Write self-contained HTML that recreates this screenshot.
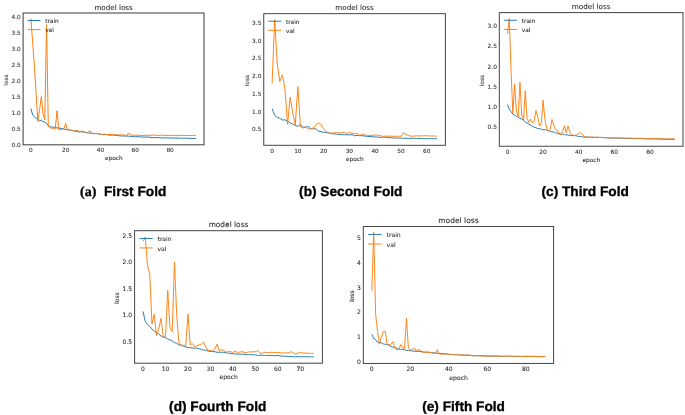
<!DOCTYPE html>
<html><head><meta charset="utf-8"><title>model loss folds</title>
<style>
html,body{margin:0;padding:0;background:#fff;}
body{width:685px;height:415px;overflow:hidden;}
.chart text{stroke:#262626;stroke-width:0.06px;}
svg{display:block;font-family:"DejaVu Sans","Liberation Sans",sans-serif;text-rendering:geometricPrecision;}
.cap{font-family:"Liberation Sans",sans-serif;}
</style></head><body>
<svg width="685" height="415" viewBox="0 0 685 415">
<rect width="685" height="415" fill="#fff"/>
<defs><filter id="b1" x="-5%" y="-5%" width="110%" height="110%"><feGaussianBlur stdDeviation="0.45"/></filter><filter id="b2" x="-5%" y="-5%" width="110%" height="110%"><feGaussianBlur stdDeviation="0.22"/></filter><filter id="b3" x="-5%" y="-20%" width="110%" height="140%"><feGaussianBlur stdDeviation="0.3"/></filter></defs>
<g id="plots">
<g class="chart" filter="url(#b1)">
<polyline points="30.90,108.54 32.64,114.91 34.38,116.59 36.12,118.42 37.86,119.10 39.60,121.11 41.34,120.12 43.08,121.65 44.82,121.86 46.56,123.90 48.30,125.05 50.04,126.81 51.78,126.96 53.52,127.32 55.26,127.17 57.00,128.04 58.74,127.95 60.48,128.29 62.22,128.47 63.96,128.75 65.70,129.57 67.44,129.41 69.18,129.86 70.92,130.32 72.66,130.53 74.40,131.10 76.14,131.20 77.88,131.59 79.62,131.66 81.36,131.70 83.10,132.15 84.84,132.29 86.58,132.55 88.32,132.83 90.06,133.04 91.80,133.16 93.54,133.60 95.28,133.59 97.02,133.57 98.76,133.95 100.50,134.33 102.24,134.59 103.98,134.71 105.72,134.45 107.46,134.85 109.20,135.10 110.94,135.10 112.68,134.95 114.42,135.38 116.16,135.43 117.90,135.58 119.64,135.78 121.38,136.00 123.12,135.99 124.86,136.07 126.60,136.07 128.34,136.14 130.08,136.25 131.82,136.44 133.56,136.48 135.30,136.80 137.04,136.62 138.78,136.79 140.52,136.97 142.26,136.96 144.00,137.10 145.74,137.03 147.48,137.06 149.22,137.06 150.96,137.56 152.70,137.63 154.44,137.60 156.18,137.59 157.92,137.58 159.66,137.72 161.40,138.04 163.14,137.89 164.88,137.80 166.62,137.90 168.36,137.87 170.10,138.01 171.84,138.04 173.58,138.03 175.32,138.04 177.06,138.09 178.80,138.14 180.54,138.25 182.28,138.17 184.02,138.23 185.76,138.16 187.50,138.18 189.24,138.32 190.98,138.41 192.72,138.46 194.46,138.39 196.20,138.46" fill="none" stroke="#1f77b4" stroke-width="1.0" stroke-linejoin="round"/>
<polyline points="30.90,18.62 32.64,42.30 34.38,66.30 36.12,93.50 37.86,121.34 39.60,109.50 41.34,96.70 43.08,114.30 44.82,119.74 46.56,24.70 48.30,126.46 50.04,127.42 51.78,128.70 53.52,128.70 55.26,128.70 57.00,110.78 58.74,129.34 60.48,129.66 62.22,129.34 63.96,128.70 65.70,123.58 67.44,130.30 69.18,129.51 70.92,130.24 72.66,130.75 74.40,131.38 76.14,130.48 77.88,130.34 79.62,132.57 81.36,131.17 83.10,131.19 84.84,132.04 86.58,133.00 88.32,132.23 90.06,130.62 91.80,133.37 93.54,133.87 95.28,133.28 97.02,133.38 98.76,134.21 100.50,133.92 102.24,134.71 103.98,134.00 105.72,134.40 107.46,134.59 109.20,134.65 110.94,134.35 112.68,134.49 114.42,134.67 116.16,134.89 117.90,134.94 119.64,134.76 121.38,134.93 123.12,134.79 124.86,135.19 126.60,136.03 128.34,133.18 130.08,134.29 131.82,134.97 133.56,135.19 135.30,135.22 137.04,135.23 138.78,135.19 140.52,135.64 142.26,135.43 144.00,135.63 145.74,135.22 147.48,135.33 149.22,135.22 150.96,135.35 152.70,135.17 154.44,135.32 156.18,135.00 157.92,135.70 159.66,135.51 161.40,135.27 163.14,135.00 164.88,135.47 166.62,135.43 168.36,135.48 170.10,135.22 171.84,135.50 173.58,135.34 175.32,135.51 177.06,135.67 178.80,135.42 180.54,135.39 182.28,135.26 184.02,135.50 185.76,135.59 187.50,135.40 189.24,135.46 190.98,135.46 192.72,135.52 194.46,135.32 196.20,135.45" fill="none" stroke="#ff7f0e" stroke-width="1.0" stroke-linejoin="round"/>
<rect x="23.1" y="13.0" width="180.90" height="131.80" fill="none" stroke="#444" stroke-width="1.05"/>
<text x="113.55" y="9.60" font-size="7.15" text-anchor="middle" fill="#262626">model loss</text>
<line x1="27.70" y1="20.55" x2="40.50" y2="20.55" stroke="#1f77b4" stroke-width="1.0"/>
<line x1="27.70" y1="29.60" x2="40.50" y2="29.60" stroke="#ff7f0e" stroke-width="1.0"/>
<text x="45.20" y="23.05" font-size="5.80" fill="#262626">train</text>
<text x="45.20" y="32.10" font-size="5.80" fill="#262626">val</text>
<text x="30.90" y="152.12" font-size="5.80" text-anchor="middle" fill="#262626">0</text>
<text x="65.70" y="152.12" font-size="5.80" text-anchor="middle" fill="#262626">20</text>
<text x="100.50" y="152.12" font-size="5.80" text-anchor="middle" fill="#262626">40</text>
<text x="135.30" y="152.12" font-size="5.80" text-anchor="middle" fill="#262626">60</text>
<text x="170.10" y="152.12" font-size="5.80" text-anchor="middle" fill="#262626">80</text>
<text x="20.70" y="147.22" font-size="5.80" text-anchor="end" fill="#262626">0.0</text>
<text x="20.70" y="131.22" font-size="5.80" text-anchor="end" fill="#262626">0.5</text>
<text x="20.70" y="115.22" font-size="5.80" text-anchor="end" fill="#262626">1.0</text>
<text x="20.70" y="99.22" font-size="5.80" text-anchor="end" fill="#262626">1.5</text>
<text x="20.70" y="83.22" font-size="5.80" text-anchor="end" fill="#262626">2.0</text>
<text x="20.70" y="67.22" font-size="5.80" text-anchor="end" fill="#262626">2.5</text>
<text x="20.70" y="51.22" font-size="5.80" text-anchor="end" fill="#262626">3.0</text>
<text x="20.70" y="35.22" font-size="5.80" text-anchor="end" fill="#262626">3.5</text>
<text x="20.70" y="19.22" font-size="5.80" text-anchor="end" fill="#262626">4.0</text>
<text x="113.75" y="160.40" font-size="5.80" text-anchor="middle" fill="#262626">epoch</text>
<text transform="translate(7.70,80.10) rotate(-90)" font-size="5.80" text-anchor="middle" fill="#262626">loss</text>
</g>
<g class="chart" filter="url(#b2)">
<polyline points="272.10,108.57 274.68,115.34 277.25,117.41 279.83,118.13 282.40,120.00 284.98,119.83 287.56,121.07 290.13,122.89 292.71,124.07 295.28,125.56 297.86,126.24 300.44,124.47 303.01,127.26 305.59,127.37 308.16,126.50 310.74,128.62 313.32,128.81 315.89,128.83 318.47,131.12 321.04,131.56 323.62,132.37 326.20,132.62 328.77,132.93 331.35,133.59 333.92,133.83 336.50,134.17 339.08,134.40 341.65,134.64 344.23,134.83 346.80,134.73 349.38,134.89 351.96,134.65 354.53,135.71 357.11,135.47 359.68,135.63 362.26,135.67 364.84,136.04 367.41,136.48 369.99,136.55 372.56,136.68 375.14,137.01 377.72,136.98 380.29,137.51 382.87,137.10 385.44,137.27 388.02,137.66 390.60,137.64 393.17,137.85 395.75,138.09 398.32,138.08 400.90,138.07 403.48,138.30 406.05,138.34 408.63,138.33 411.20,138.31 413.78,138.24 416.36,138.52 418.93,138.41 421.51,138.49 424.08,138.79 426.66,138.64 429.24,138.65 431.81,138.67 434.39,138.66 436.96,138.82" fill="none" stroke="#1f77b4" stroke-width="0.95" stroke-linejoin="round"/>
<polyline points="272.10,83.72 274.68,19.46 277.25,63.84 279.83,81.59 282.40,74.84 284.98,89.04 287.56,124.29 290.13,97.21 292.71,112.83 295.28,124.90 297.86,86.56 300.44,126.67 303.01,128.09 305.59,126.67 308.16,129.16 310.74,128.80 313.32,128.09 315.89,124.90 318.47,123.12 321.04,124.54 323.62,128.80 326.20,131.64 328.77,133.06 331.35,133.27 333.92,132.84 336.50,132.80 339.08,132.68 341.65,132.85 344.23,132.21 346.80,133.79 349.38,132.35 351.96,133.11 354.53,133.80 357.11,133.54 359.68,135.53 362.26,134.32 364.84,134.89 367.41,135.75 369.99,135.31 372.56,135.82 375.14,134.87 377.72,135.21 380.29,135.80 382.87,136.29 385.44,136.15 388.02,136.14 390.60,136.21 393.17,136.31 395.75,136.29 398.32,136.27 400.90,136.34 403.48,132.71 406.05,134.48 408.63,135.59 411.20,136.23 413.78,136.08 416.36,135.83 418.93,135.98 421.51,135.86 424.08,135.80 426.66,135.73 429.24,135.84 431.81,136.16 434.39,135.80 436.96,136.32" fill="none" stroke="#ff7f0e" stroke-width="0.95" stroke-linejoin="round"/>
<rect x="263.75" y="13.65" width="181.65" height="131.65" fill="none" stroke="#444" stroke-width="1.0"/>
<text x="354.57" y="10.25" font-size="7.18" text-anchor="middle" fill="#262626">model loss</text>
<line x1="268.37" y1="21.23" x2="281.22" y2="21.23" stroke="#1f77b4" stroke-width="0.95"/>
<line x1="268.37" y1="30.32" x2="281.22" y2="30.32" stroke="#ff7f0e" stroke-width="0.95"/>
<text x="285.94" y="23.74" font-size="5.82" fill="#262626">train</text>
<text x="285.94" y="32.83" font-size="5.82" fill="#262626">val</text>
<text x="272.10" y="152.63" font-size="5.82" text-anchor="middle" fill="#262626">0</text>
<text x="297.86" y="152.63" font-size="5.82" text-anchor="middle" fill="#262626">10</text>
<text x="323.62" y="152.63" font-size="5.82" text-anchor="middle" fill="#262626">20</text>
<text x="349.38" y="152.63" font-size="5.82" text-anchor="middle" fill="#262626">30</text>
<text x="375.14" y="152.63" font-size="5.82" text-anchor="middle" fill="#262626">40</text>
<text x="400.90" y="152.63" font-size="5.82" text-anchor="middle" fill="#262626">50</text>
<text x="426.66" y="152.63" font-size="5.82" text-anchor="middle" fill="#262626">60</text>
<text x="261.35" y="131.33" font-size="5.82" text-anchor="end" fill="#262626">0.5</text>
<text x="261.35" y="113.58" font-size="5.82" text-anchor="end" fill="#262626">1.0</text>
<text x="261.35" y="95.83" font-size="5.82" text-anchor="end" fill="#262626">1.5</text>
<text x="261.35" y="78.08" font-size="5.82" text-anchor="end" fill="#262626">2.0</text>
<text x="261.35" y="60.33" font-size="5.82" text-anchor="end" fill="#262626">2.5</text>
<text x="261.35" y="42.58" font-size="5.82" text-anchor="end" fill="#262626">3.0</text>
<text x="261.35" y="24.83" font-size="5.82" text-anchor="end" fill="#262626">3.5</text>
<text x="354.77" y="160.88" font-size="5.82" text-anchor="middle" fill="#262626">epoch</text>
<text transform="translate(249.00,80.68) rotate(-90)" font-size="5.82" text-anchor="middle" fill="#262626">loss</text>
</g>
<g class="chart" filter="url(#b2)">
<polyline points="507.50,104.52 509.28,109.18 511.06,111.57 512.84,114.19 514.62,114.97 516.40,116.24 518.18,117.14 519.96,118.31 521.74,119.13 523.52,120.38 525.30,122.14 527.08,122.90 528.86,124.27 530.64,125.05 532.42,126.36 534.20,127.16 535.98,127.76 537.76,128.54 539.54,128.47 541.32,129.30 543.10,129.67 544.88,129.81 546.66,129.93 548.44,130.67 550.22,131.40 552.00,131.79 553.78,132.01 555.56,132.76 557.34,133.44 559.12,133.91 560.90,134.08 562.68,134.07 564.46,134.76 566.24,134.84 568.02,135.04 569.80,135.45 571.58,135.40 573.36,135.65 575.14,135.59 576.92,136.01 578.70,136.45 580.48,136.38 582.26,136.74 584.04,137.14 585.82,137.07 587.60,137.14 589.38,137.25 591.16,137.22 592.94,137.57 594.72,137.40 596.50,137.32 598.28,137.41 600.06,137.45 601.84,137.52 603.62,137.55 605.40,137.92 607.18,137.77 608.96,138.14 610.74,138.07 612.52,138.28 614.30,138.02 616.08,138.02 617.86,138.23 619.64,138.05 621.42,138.36 623.20,138.31 624.98,138.35 626.76,138.51 628.54,138.39 630.32,138.26 632.10,138.62 633.88,138.45 635.66,138.60 637.44,138.43 639.22,138.60 641.00,138.62 642.78,138.66 644.56,138.74 646.34,138.94 648.12,138.69 649.90,139.01 651.68,138.88 653.46,138.88 655.24,139.06 657.02,139.00 658.80,138.93 660.58,139.08 662.36,139.20 664.14,139.44 665.92,139.28 667.70,139.27 669.48,139.30 671.26,139.38 673.04,139.28 674.82,139.37" fill="none" stroke="#1f77b4" stroke-width="0.95" stroke-linejoin="round"/>
<polyline points="507.50,34.05 509.28,18.66 511.06,70.50 512.84,113.02 514.62,84.27 516.40,111.00 518.18,116.67 519.96,82.24 521.74,115.05 523.52,119.91 525.30,90.75 527.08,118.29 528.86,122.34 530.64,119.10 532.42,123.15 534.20,121.12 535.98,110.59 537.76,117.07 539.54,125.98 541.32,123.15 543.10,100.06 544.88,119.10 546.66,128.41 548.44,130.44 550.22,129.22 552.00,119.50 553.78,125.17 555.56,129.63 557.34,130.44 559.12,133.68 560.90,134.49 562.68,131.25 564.46,125.58 566.24,132.87 568.02,125.98 569.80,132.06 571.58,134.49 573.36,135.30 575.14,135.30 576.92,134.89 578.70,133.27 580.48,132.87 582.26,134.08 584.04,136.11 585.82,136.92 587.60,137.28 589.38,137.08 591.16,137.13 592.94,136.91 594.72,137.47 596.50,137.16 598.28,137.30 600.06,137.51 601.84,137.32 603.62,137.47 605.40,137.86 607.18,137.44 608.96,138.06 610.74,137.80 612.52,137.88 614.30,137.83 616.08,138.14 617.86,138.00 619.64,138.06 621.42,137.82 623.20,138.17 624.98,138.11 626.76,138.18 628.54,138.32 630.32,137.93 632.10,138.25 633.88,138.43 635.66,138.16 637.44,138.44 639.22,138.33 641.00,138.31 642.78,138.49 644.56,138.50 646.34,138.54 648.12,138.53 649.90,138.70 651.68,138.69 653.46,138.61 655.24,138.53 657.02,138.60 658.80,138.52 660.58,138.65 662.36,138.80 664.14,138.79 665.92,139.00 667.70,138.92 669.48,138.96 671.26,138.86 673.04,138.85 674.82,139.00" fill="none" stroke="#ff7f0e" stroke-width="0.95" stroke-linejoin="round"/>
<rect x="499.3" y="12.6" width="183.70" height="133.65" fill="none" stroke="#444" stroke-width="1.0"/>
<text x="591.15" y="9.20" font-size="7.26" text-anchor="middle" fill="#262626">model loss</text>
<line x1="503.97" y1="20.27" x2="516.97" y2="20.27" stroke="#1f77b4" stroke-width="0.95"/>
<line x1="503.97" y1="29.46" x2="516.97" y2="29.46" stroke="#ff7f0e" stroke-width="0.95"/>
<text x="521.74" y="22.81" font-size="5.89" fill="#262626">train</text>
<text x="521.74" y="32.00" font-size="5.89" fill="#262626">val</text>
<text x="507.50" y="153.60" font-size="5.89" text-anchor="middle" fill="#262626">0</text>
<text x="543.10" y="153.60" font-size="5.89" text-anchor="middle" fill="#262626">20</text>
<text x="578.70" y="153.60" font-size="5.89" text-anchor="middle" fill="#262626">40</text>
<text x="614.30" y="153.60" font-size="5.89" text-anchor="middle" fill="#262626">60</text>
<text x="649.90" y="153.60" font-size="5.89" text-anchor="middle" fill="#262626">80</text>
<text x="496.90" y="129.25" font-size="5.89" text-anchor="end" fill="#262626">0.5</text>
<text x="496.90" y="109.00" font-size="5.89" text-anchor="end" fill="#262626">1.0</text>
<text x="496.90" y="88.75" font-size="5.89" text-anchor="end" fill="#262626">1.5</text>
<text x="496.90" y="68.50" font-size="5.89" text-anchor="end" fill="#262626">2.0</text>
<text x="496.90" y="48.25" font-size="5.89" text-anchor="end" fill="#262626">2.5</text>
<text x="496.90" y="28.00" font-size="5.89" text-anchor="end" fill="#262626">3.0</text>
<text x="591.35" y="162.07" font-size="5.89" text-anchor="middle" fill="#262626">epoch</text>
<text transform="translate(484.00,80.62) rotate(-90)" font-size="5.89" text-anchor="middle" fill="#262626">loss</text>
</g>
<g class="chart" filter="url(#b2)">
<polyline points="143.00,311.43 145.25,321.50 147.49,324.54 149.74,326.27 151.99,329.02 154.24,331.33 156.48,332.78 158.73,334.11 160.98,335.88 163.22,337.27 165.47,337.65 167.72,338.95 169.96,339.87 172.21,340.91 174.46,342.58 176.70,343.44 178.95,344.83 181.20,345.18 183.45,346.16 185.69,347.06 187.94,347.54 190.19,347.60 192.43,347.84 194.68,348.37 196.93,347.97 199.18,348.86 201.42,349.16 203.67,350.17 205.92,350.15 208.16,351.09 210.41,351.40 212.66,351.43 214.90,351.72 217.15,352.30 219.40,352.32 221.64,352.23 223.89,352.32 226.14,352.76 228.39,353.20 230.63,353.31 232.88,353.83 235.13,353.74 237.37,354.13 239.62,354.08 241.87,354.23 244.12,354.24 246.36,354.52 248.61,354.46 250.86,354.76 253.10,354.76 255.35,354.89 257.60,355.30 259.84,355.15 262.09,355.23 264.34,355.41 266.58,355.37 268.83,355.65 271.08,355.49 273.33,355.57 275.57,355.67 277.82,355.50 280.07,355.88 282.31,356.05 284.56,356.27 286.81,356.29 289.06,356.56 291.30,356.45 293.55,356.78 295.80,356.82 298.04,356.63 300.29,356.72 302.54,356.81 304.78,356.69 307.03,356.85 309.28,356.76 311.52,356.84 313.77,356.87" fill="none" stroke="#1f77b4" stroke-width="0.95" stroke-linejoin="round"/>
<polyline points="143.00,241.47 145.25,236.98 147.49,265.50 149.74,273.94 151.99,324.10 154.24,314.07 156.48,335.72 158.73,329.38 160.98,318.30 163.22,336.25 165.47,337.30 167.72,290.31 169.96,327.80 172.21,331.50 174.46,262.33 176.70,314.60 178.95,343.38 181.20,345.22 183.45,345.22 185.69,346.28 187.94,314.07 190.19,344.70 192.43,343.64 194.68,346.81 196.93,345.75 199.18,344.70 201.42,344.17 203.67,342.06 205.92,347.34 208.16,350.50 210.41,350.50 212.66,351.03 214.90,348.92 217.15,344.17 219.40,351.03 221.64,349.45 223.89,350.50 226.14,352.13 228.39,351.49 230.63,351.57 232.88,352.52 235.13,351.03 237.37,352.38 239.62,352.12 241.87,351.59 244.12,352.35 246.36,352.66 248.61,351.89 250.86,351.94 253.10,351.86 255.35,351.70 257.60,350.77 259.84,352.94 262.09,353.41 264.34,352.37 266.58,352.56 268.83,352.60 271.08,352.27 273.33,352.48 275.57,352.51 277.82,352.47 280.07,352.78 282.31,352.90 284.56,352.91 286.81,353.00 289.06,352.92 291.30,351.56 293.55,352.96 295.80,354.20 298.04,353.08 300.29,352.35 302.54,352.94 304.78,352.97 307.03,353.24 309.28,353.28 311.52,353.44 313.77,353.25" fill="none" stroke="#ff7f0e" stroke-width="0.95" stroke-linejoin="round"/>
<rect x="134.6" y="230.7" width="187.80" height="132.50" fill="none" stroke="#444" stroke-width="1.0"/>
<text x="228.50" y="227.30" font-size="7.42" text-anchor="middle" fill="#262626">model loss</text>
<line x1="139.38" y1="238.54" x2="152.66" y2="238.54" stroke="#1f77b4" stroke-width="0.95"/>
<line x1="139.38" y1="247.93" x2="152.66" y2="247.93" stroke="#ff7f0e" stroke-width="0.95"/>
<text x="157.54" y="241.13" font-size="6.02" fill="#262626">train</text>
<text x="157.54" y="250.53" font-size="6.02" fill="#262626">val</text>
<text x="143.00" y="370.60" font-size="6.02" text-anchor="middle" fill="#262626">0</text>
<text x="165.47" y="370.60" font-size="6.02" text-anchor="middle" fill="#262626">10</text>
<text x="187.94" y="370.60" font-size="6.02" text-anchor="middle" fill="#262626">20</text>
<text x="210.41" y="370.60" font-size="6.02" text-anchor="middle" fill="#262626">30</text>
<text x="232.88" y="370.60" font-size="6.02" text-anchor="middle" fill="#262626">40</text>
<text x="255.35" y="370.60" font-size="6.02" text-anchor="middle" fill="#262626">50</text>
<text x="277.82" y="370.60" font-size="6.02" text-anchor="middle" fill="#262626">60</text>
<text x="300.29" y="370.60" font-size="6.02" text-anchor="middle" fill="#262626">70</text>
<text x="132.20" y="343.60" font-size="6.02" text-anchor="end" fill="#262626">0.5</text>
<text x="132.20" y="317.20" font-size="6.02" text-anchor="end" fill="#262626">1.0</text>
<text x="132.20" y="290.80" font-size="6.02" text-anchor="end" fill="#262626">1.5</text>
<text x="132.20" y="264.40" font-size="6.02" text-anchor="end" fill="#262626">2.0</text>
<text x="132.20" y="238.00" font-size="6.02" text-anchor="end" fill="#262626">2.5</text>
<text x="228.70" y="378.88" font-size="6.02" text-anchor="middle" fill="#262626">epoch</text>
<text transform="translate(119.00,298.15) rotate(-90)" font-size="6.02" text-anchor="middle" fill="#262626">loss</text>
</g>
<g class="chart" filter="url(#b2)">
<polyline points="371.80,334.31 373.73,338.67 375.65,339.65 377.58,342.36 379.50,342.75 381.43,342.80 383.36,343.97 385.28,344.29 387.21,344.47 389.13,345.48 391.06,346.53 392.99,347.06 394.91,347.84 396.84,348.10 398.76,349.06 400.69,349.29 402.62,349.35 404.54,349.64 406.47,350.51 408.39,350.31 410.32,350.82 412.25,351.00 414.17,351.20 416.10,351.32 418.02,351.26 419.95,351.49 421.88,351.79 423.80,352.03 425.73,352.15 427.65,352.34 429.58,352.37 431.51,352.78 433.43,352.87 435.36,353.06 437.28,353.24 439.21,353.37 441.14,353.55 443.06,353.56 444.99,353.92 446.91,353.87 448.84,354.27 450.77,354.45 452.69,354.53 454.62,354.65 456.54,354.80 458.47,354.83 460.40,354.93 462.32,355.08 464.25,355.26 466.17,355.31 468.10,355.22 470.03,355.43 471.95,355.67 473.88,355.67 475.80,355.73 477.73,355.63 479.66,355.83 481.58,355.66 483.51,355.90 485.43,356.02 487.36,356.14 489.29,356.02 491.21,356.16 493.14,356.23 495.06,356.11 496.99,356.18 498.92,356.09 500.84,356.23 502.77,356.51 504.69,356.18 506.62,356.45 508.55,356.14 510.47,356.13 512.40,356.36 514.32,356.45 516.25,356.48 518.18,356.29 520.10,356.41 522.03,356.46 523.95,356.44 525.88,356.24 527.81,356.42 529.73,356.40 531.66,356.41 533.58,356.41 535.51,356.42 537.44,356.60 539.36,356.57 541.29,356.63 543.21,356.65 545.14,356.57" fill="none" stroke="#1f77b4" stroke-width="0.95" stroke-linejoin="round"/>
<polyline points="371.80,290.74 373.73,232.22 375.65,314.39 377.58,331.32 379.50,343.77 381.43,337.30 383.36,331.32 385.28,331.32 387.21,344.52 389.13,344.77 391.06,344.27 392.99,341.53 394.91,348.26 396.84,349.75 398.76,349.75 400.69,344.52 402.62,347.76 404.54,348.50 406.47,318.13 408.39,348.26 410.32,349.75 412.25,349.75 414.17,348.01 416.10,351.00 418.02,349.75 419.95,349.75 421.88,351.74 423.80,352.57 425.73,352.25 427.65,351.94 429.58,352.31 431.51,352.79 433.43,353.26 435.36,353.54 437.28,349.75 439.21,353.98 441.14,354.16 443.06,354.17 444.99,353.83 446.91,354.17 448.84,354.41 450.77,354.48 452.69,354.73 454.62,354.48 456.54,354.47 458.47,354.53 460.40,354.91 462.32,354.98 464.25,354.91 466.17,354.94 468.10,355.07 470.03,355.20 471.95,355.65 473.88,355.92 475.80,355.50 477.73,355.76 479.66,355.83 481.58,356.06 483.51,356.20 485.43,355.77 487.36,356.01 489.29,356.31 491.21,356.10 493.14,356.13 495.06,356.13 496.99,356.00 498.92,356.21 500.84,356.32 502.77,356.23 504.69,356.31 506.62,356.23 508.55,356.27 510.47,356.28 512.40,356.37 514.32,356.30 516.25,356.39 518.18,356.33 520.10,356.41 522.03,356.49 523.95,356.38 525.88,356.49 527.81,356.34 529.73,356.43 531.66,356.45 533.58,356.49 535.51,356.52 537.44,356.72 539.36,356.46 541.29,356.63 543.21,356.51 545.14,356.65" fill="none" stroke="#ff7f0e" stroke-width="0.95" stroke-linejoin="round"/>
<rect x="363.3" y="226.5" width="190.30" height="136.95" fill="none" stroke="#444" stroke-width="1.0"/>
<text x="458.45" y="223.10" font-size="7.52" text-anchor="middle" fill="#262626">model loss</text>
<line x1="368.14" y1="234.44" x2="381.60" y2="234.44" stroke="#1f77b4" stroke-width="0.95"/>
<line x1="368.14" y1="243.96" x2="381.60" y2="243.96" stroke="#ff7f0e" stroke-width="0.95"/>
<text x="386.55" y="237.07" font-size="6.10" fill="#262626">train</text>
<text x="386.55" y="246.59" font-size="6.10" fill="#262626">val</text>
<text x="371.80" y="371.23" font-size="6.10" text-anchor="middle" fill="#262626">0</text>
<text x="410.32" y="371.23" font-size="6.10" text-anchor="middle" fill="#262626">20</text>
<text x="448.84" y="371.23" font-size="6.10" text-anchor="middle" fill="#262626">40</text>
<text x="487.36" y="371.23" font-size="6.10" text-anchor="middle" fill="#262626">60</text>
<text x="525.88" y="371.23" font-size="6.10" text-anchor="middle" fill="#262626">80</text>
<text x="360.90" y="364.23" font-size="6.10" text-anchor="end" fill="#262626">0</text>
<text x="360.90" y="339.33" font-size="6.10" text-anchor="end" fill="#262626">1</text>
<text x="360.90" y="314.43" font-size="6.10" text-anchor="end" fill="#262626">2</text>
<text x="360.90" y="289.53" font-size="6.10" text-anchor="end" fill="#262626">3</text>
<text x="360.90" y="264.63" font-size="6.10" text-anchor="end" fill="#262626">4</text>
<text x="360.90" y="239.73" font-size="6.10" text-anchor="end" fill="#262626">5</text>
<text x="458.65" y="379.66" font-size="6.10" text-anchor="middle" fill="#262626">epoch</text>
<text transform="translate(353.50,296.18) rotate(-90)" font-size="6.10" text-anchor="middle" fill="#262626">loss</text>
</g>
</g>
<g id="captions" stroke="#000" stroke-width="0.34" stroke-linejoin="round" filter="url(#b3)">

<text x="80.0" y="196.4" font-size="14.0" font-weight="bold" fill="#000" style="font-family:'Liberation Serif',serif">(a)</text>
<text x="104.0" y="196.4" font-size="13.68" font-weight="bold" fill="#000" class="cap">First Fold</text>
<text x="299.1" y="196.4" font-size="13.68" font-weight="bold" fill="#000" class="cap">(b) Second Fold</text>
<text x="541.5" y="196.4" font-size="13.68" font-weight="bold" fill="#000" class="cap">(c) Third Fold</text>
<text x="169.1" y="411.3" font-size="13.68" font-weight="bold" fill="#000" class="cap">(d) Fourth Fold</text>
<text x="422.2" y="411.3" font-size="13.68" font-weight="bold" fill="#000" class="cap">(e) Fifth Fold</text>

</g>
</svg>
</body></html>
